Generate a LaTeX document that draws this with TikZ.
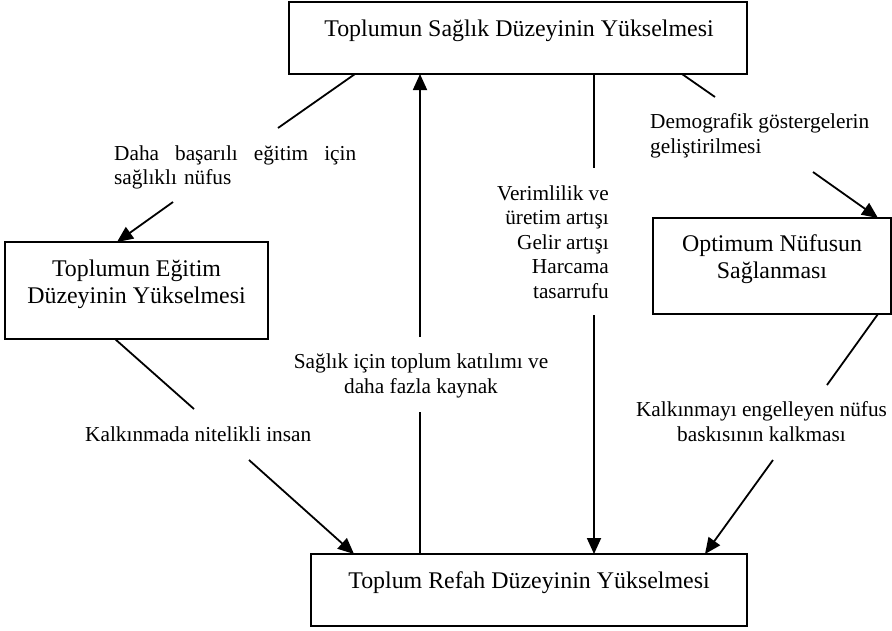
\documentclass[tikz,border=0pt]{standalone}
\usepackage{fontspec}
\setmainfont{Liberation Serif}
\usetikzlibrary{arrows.meta}
\begin{document}
\begin{tikzpicture}[x=1pt,y=-1pt,
  box/.style={draw,line width=1.8pt,inner sep=0pt,outer sep=0pt},
  boxtxt/.style={inner sep=0pt,font=\fontsize{23.9}{27}\selectfont,align=center},
  lbl/.style={inner sep=0pt,font=\fontsize{21.3}{24.5}\selectfont},
  conn/.style={line width=1.8pt},
  arr/.style={line width=1.8pt,-{Triangle[length=16pt,width=14pt]}}]
\useasboundingbox (0,0) rectangle (892,630);
% boxes
\node[box,minimum width=458pt,minimum height=72pt] (top) at (518,38) {};
\node[box,minimum width=263pt,minimum height=97pt] (edu) at (136.5,290.5) {};
\node[box,minimum width=238pt,minimum height=96pt] (opt) at (772,266) {};
\node[box,minimum width=436pt,minimum height=72pt] (bot) at (529,590) {};
% box texts (anchor base = baseline of last line)
\node[boxtxt,anchor=base] (toptxt) at (519,36) {Toplumun Sağlık Düzeyinin Yükselmesi};
\node[boxtxt,anchor=base] (edutxt) at (136.5,303) {Toplumun Eğitim\\Düzeyinin Yükselmesi};
\node[boxtxt,anchor=base] (opttxt) at (772,278) {Optimum Nüfusun\\Sağlanması};
\node[boxtxt,anchor=base] (bottxt) at (529,588) {Toplum Refah Düzeyinin Yükselmesi};
% labels
\node[lbl,anchor=base west,text width=242pt,align=left] (l1) at (114,160) {Daha\hfill başarılı\hfill eğitim\hfill için\\sağlıklı nüfus};
\node[lbl,anchor=base west,align=left] (l4) at (650,153) {Demografik göstergelerin\\geliştirilmesi};
\node[lbl,anchor=base east,align=right] (l3) at (609,298) {Verimlilik ve\\üretim artışı\\Gelir artışı\\Harcama\\tasarrufu};
\node[lbl,anchor=base,align=center] (l2) at (421,393) {Sağlık için toplum katılımı ve\\daha fazla kaynak};
\node[lbl,anchor=base west] (l5) at (85,441) {Kalkınmada nitelikli insan};
\node[lbl,anchor=base,align=center] (l6) at (761.5,441) {Kalkınmayı engelleyen nüfus\\baskısının kalkması};
% connector end points
\coordinate (a1s) at ([xshift=66pt]top.south west);
\coordinate (a1m) at (278,128);
\coordinate (a1n) at (173,202);
\coordinate (a2lo) at (420,412);
\coordinate (a2hi) at (420,337);
\coordinate (a3hi) at (594,168);
\coordinate (a3lo) at (594,315);
\coordinate (a4m) at (715,97);
\coordinate (a4n) at (813,172);
\coordinate (a5m) at (194,409);
\coordinate (a5n) at (249,460);
\coordinate (a6m) at (827,385);
\coordinate (a6n) at (773,460);
% connectors
\draw[conn] (a1s) -- (a1m);
\draw[arr] (a1n) -- ([xshift=-19.5pt]edu.north);
\draw[conn] ([xshift=-109pt]bot.north) -- (a2lo);
\draw[arr] (a2hi) -- ([xshift=-98pt]top.south);
\draw[conn] ([xshift=76pt]top.south) -- (a3hi);
\draw[arr] (a3lo) -- ([xshift=65pt]bot.north);
\draw[conn] ([xshift=164pt]top.south) -- (a4m);
\draw[arr] (a4n) -- ([xshift=106pt]opt.north);
\draw[conn] ([xshift=-21.5pt]edu.south) -- (a5m);
\draw[arr] (a5n) -- ([xshift=-175pt]bot.north);
\draw[conn] ([xshift=106pt]opt.south) -- (a6m);
\draw[arr] (a6n) -- ([xshift=176pt]bot.north);
\end{tikzpicture}
\end{document}
